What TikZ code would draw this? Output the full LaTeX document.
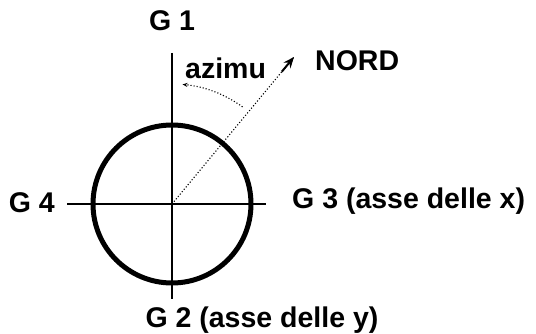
\documentclass[tikz,border=0pt]{standalone}
\usepackage{fontspec}
\setmainfont{Liberation Sans}
\usetikzlibrary{arrows.meta,calc}
\begin{document}
\begin{tikzpicture}[x=1pt,y=-1pt,
  lbl/.style={font=\fontsize{28.5}{32}\selectfont\bfseries, inner sep=0pt},
  axis/.style={line width=2.7pt},
  ring/.style={line width=5pt},
  dots/.style={line width=1.1pt, dotted}]
\useasboundingbox (0,0) rectangle (536,334);
\coordinate (O) at (172,204);
\coordinate (top) at (172,53);
\coordinate (bot) at (172,299);
\coordinate (lft) at (67,204);
\coordinate (rgt) at (266,204);
\coordinate (N) at (294,57);
\draw[ring] (O) circle (79);
\draw[axis] (top) -- (bot);
\draw[axis] (lft) -- (rgt);
\draw[dots] (O) -- (N);
\draw[line width=2pt, -{Stealth[length=11pt,width=9pt]}] ($(O)!0.9!(N)$) -- (N);
\draw[dots, -{Stealth[length=5pt,width=4pt]}] ([shift={(-54:120)}]O) arc[start angle=-54, end angle=-85, radius=120];
\node[lbl] (g1) at (172,21) {G 1};
\node[lbl, anchor=west] (az) at (185,68) {azimu};
\node[lbl, anchor=west] (nord) at (315,61) {NORD};
\node[lbl, anchor=east] (g4) at (55,203) {G 4};
\node[lbl, anchor=west] (g3) at (292,201) {G 3 (asse delle x)};
\node[lbl] (g2) at (262,320) {G 2 (asse delle y)};
\end{tikzpicture}
\end{document}
